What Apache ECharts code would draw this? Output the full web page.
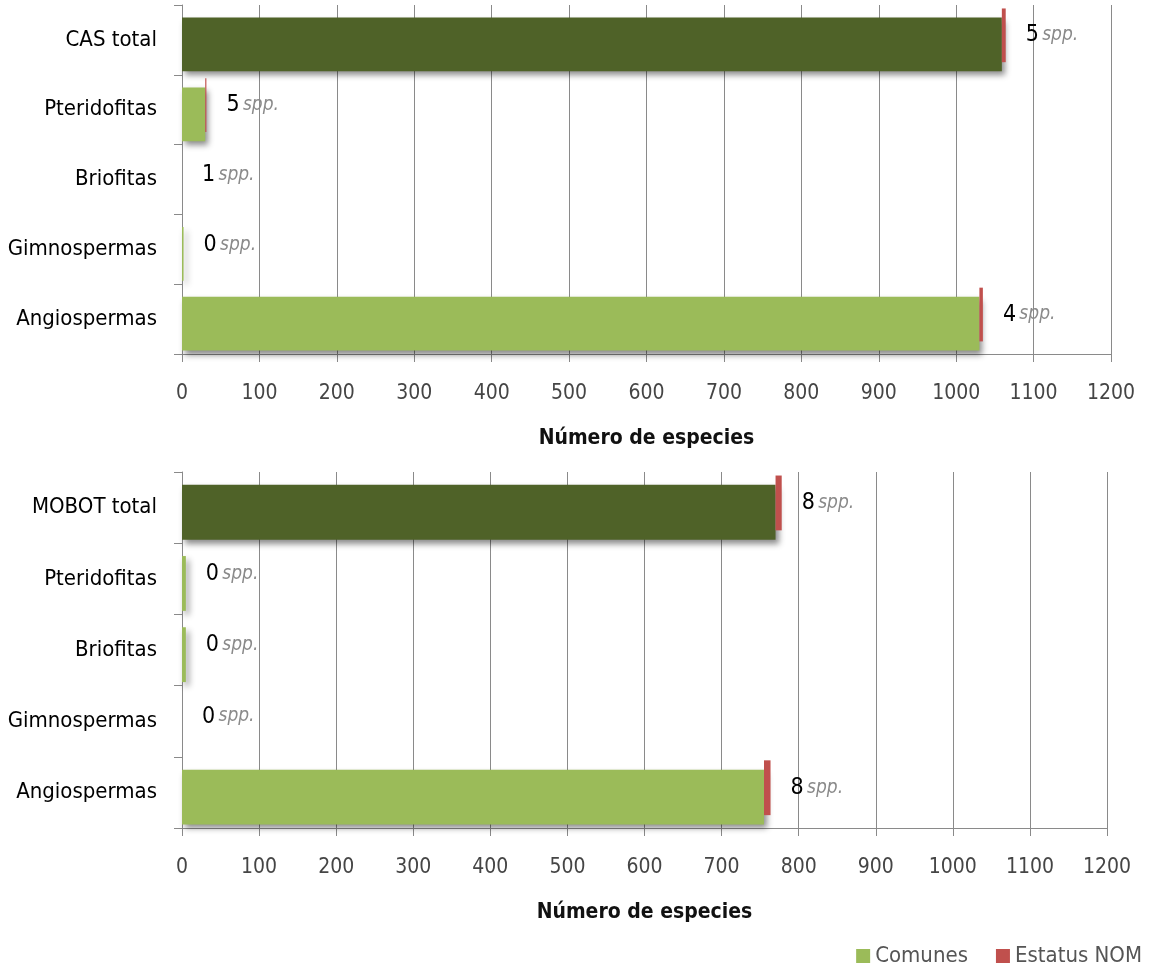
<!DOCTYPE html>
<html>
<head>
<meta charset="utf-8">
<script src="https://cdn.jsdelivr.net/npm/echarts@6/dist/echarts.min.js"></script>
<style>
html,body{margin:0;padding:0;background:#fff;}
#chart{width:1157px;height:966px;}
</style>
</head>
<body>
<div id="chart"></div>
<script>
// ---- data ----
const categoriesTop = ['CAS total', 'Pteridofitas', 'Briofitas', 'Gimnospermas', 'Angiospermas'];
const categoriesBottom = ['MOBOT total', 'Pteridofitas', 'Briofitas', 'Gimnospermas', 'Angiospermas'];
const comunesTop = [1059, 30, 0, 2, 1030];
const nomBarTop = [5, 1.5, 0, 0, 4.5];
const nomCountTop = [5, 5, 1, 0, 4];
const comunesBottom = [770, 5, 5, 0, 755];
const nomBarBottom = [8, 0, 0, 0, 8.5];
const nomCountBottom = [8, 0, 0, 0, 8];
const xMin = 0, xMax = 1200, xStep = 100;
const xTitle = 'Número de especies';
const legendNames = ['Comunes', 'Estatus NOM'];

// ---- style ----
const FONT = "'DejaVu Sans Condensed', 'Liberation Sans Narrow', sans-serif";
const DARK = '#4f6228', LIGHT = '#9bbb59', RED = '#c0504d', GRID = '#8a8a8a';
const shadow = {shadowColor: 'rgba(0,0,0,0.45)', shadowBlur: 6, shadowOffsetX: 3, shadowOffsetY: 4};

function xAxis(gi) {
  return {
    type: 'value', gridIndex: gi, min: xMin, max: xMax, interval: xStep,
    name: xTitle, nameLocation: 'middle', nameGap: 74,
    nameTextStyle: {fontFamily: FONT, fontSize: 21, fontWeight: 'bold', color: '#111'},
    axisLine: {show: true, lineStyle: {color: GRID, width: 1}},
    axisTick: {show: true, length: 8, lineStyle: {color: GRID}},
    axisLabel: {fontFamily: FONT, fontSize: 21, color: '#454545', margin: 29,
                formatter: v => String(v)},
    splitLine: {show: true, lineStyle: {color: GRID, width: 1}}
  };
}
function yAxis(gi, cats) {
  return {
    type: 'category', gridIndex: gi, data: cats, inverse: true,
    axisLine: {show: true, lineStyle: {color: GRID, width: 1}},
    axisTick: {show: true, length: 8, lineStyle: {color: GRID}},
    axisLabel: {fontFamily: FONT, fontSize: 22, color: '#000', margin: 25},
    splitLine: {show: false}
  };
}
function seriesFor(gi, comunes, nomBar, nomCount) {
  const common = {type: 'bar', xAxisIndex: gi, yAxisIndex: gi, barWidth: '77%', barGap: '-83%'};
  return [
    Object.assign({}, common, {
      name: 'base' + gi, stack: 'nom' + gi, silent: true,
      itemStyle: {color: 'rgba(0,0,0,0)'}, data: comunes.slice()
    }),
    Object.assign({}, common, {
      name: 'Estatus NOM', stack: 'nom' + gi, z: 3,
      itemStyle: {color: RED},
      label: {
        show: true, position: 'right', distance: 20,
        formatter: p => '{n|' + nomCount[p.dataIndex] + '} {s|spp.}',
        rich: {
          n: {fontFamily: FONT, fontSize: 23, color: '#000'},
          s: {fontFamily: FONT, fontSize: 19, fontStyle: 'italic', color: '#8a8a8a'}
        }
      },
      data: nomBar.slice()
    }),
    Object.assign({}, common, {
      name: 'Comunes', stack: 'com' + gi, z: 2,
      itemStyle: Object.assign({color: LIGHT}, shadow),
      data: comunes.map((v, i) => i === 0 ? {value: v, itemStyle: Object.assign({color: DARK}, shadow)} : v)
    })
  ];
}

const chart = echarts.init(document.getElementById('chart'), null, {renderer: 'canvas'});
chart.setOption({
  animation: false,
  backgroundColor: '#fff',
  legend: {
    data: legendNames.map(n => ({name: n, itemStyle: {color: n === 'Comunes' ? LIGHT : RED}})),
    right: 10, bottom: -6, itemWidth: 14, itemHeight: 14, itemGap: 28, icon: 'rect',
    textStyle: {fontFamily: FONT, fontSize: 22, color: '#555'}
  },
  grid: [
    {left: 182, right: 46, top: 5, height: 349, containLabel: false, outerBoundsMode: 'none'},
    {left: 182, right: 50, top: 472, height: 356, containLabel: false, outerBoundsMode: 'none'}
  ],
  xAxis: [xAxis(0), xAxis(1)],
  yAxis: [yAxis(0, categoriesTop), yAxis(1, categoriesBottom)],
  series: seriesFor(0, comunesTop, nomBarTop, nomCountTop)
    .concat(seriesFor(1, comunesBottom, nomBarBottom, nomCountBottom))
});
</script>
</body>
</html>
